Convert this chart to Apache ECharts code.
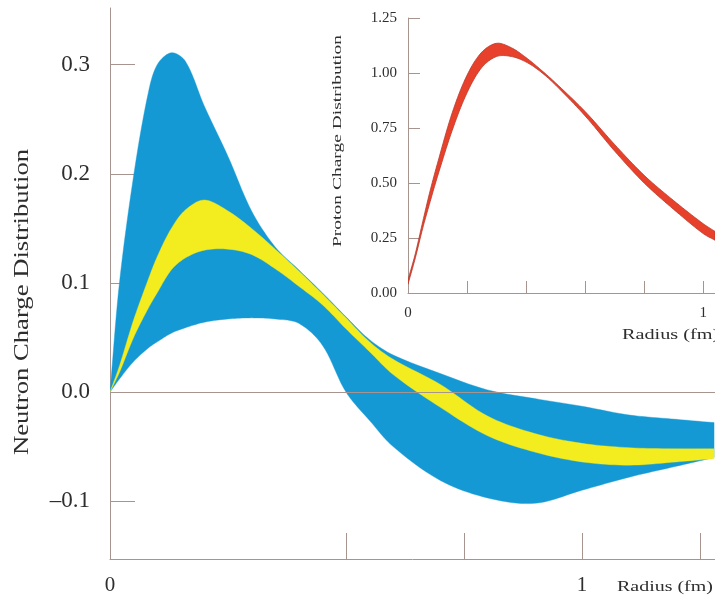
<!DOCTYPE html>
<html>
<head>
<meta charset="utf-8">
<script src="https://cdn.jsdelivr.net/npm/echarts@6/dist/echarts.min.js"></script>
<style>
html,body{margin:0;padding:0;background:#fff;}
#chart{width:715px;height:599px;}
</style>
</head>
<body>
<div id="chart"></div>
<script>
// ---- Main chart: neutron charge distribution (radius in fm) ----
const radius = [0, 0.02, 0.05, 0.08, 0.1, 0.13, 0.16, 0.2, 0.25, 0.3, 0.35, 0.4, 0.45, 0.5, 0.55, 0.6, 0.7, 0.8, 0.9, 1.0, 1.1, 1.2, 1.28];
const blueUpper = [0, 0.10, 0.198, 0.272, 0.30, 0.311, 0.303, 0.262, 0.216, 0.166, 0.133, 0.112, 0.091, 0.069, 0.048, 0.034, 0.017, 0.002, -0.006, -0.013, -0.021, -0.025, -0.028];
const blueLower = [0, 0.012, 0.028, 0.040, 0.046, 0.054, 0.059, 0.064, 0.067, 0.068, 0.067, 0.063, 0.043, 0.000, -0.026, -0.050, -0.081, -0.097, -0.102, -0.090, -0.078, -0.068, -0.060];
const yellowUpper = [0, 0.024, 0.066, 0.102, 0.124, 0.150, 0.167, 0.176, 0.166, 0.150, 0.131, 0.111, 0.090, 0.068, 0.046, 0.030, 0.007, -0.022, -0.038, -0.047, -0.051, -0.052, -0.052];
const yellowLower = [0, 0.018, 0.050, 0.076, 0.091, 0.112, 0.123, 0.130, 0.131, 0.126, 0.113, 0.097, 0.080, 0.058, 0.037, 0.016, -0.014, -0.040, -0.055, -0.064, -0.067, -0.064, -0.061];
const mainYTicks = [-0.1, 0, 0.1, 0.2, 0.3];
const mainXTicks = [0.5, 0.75, 1, 1.25];
const mainXLabels = [0, 1];

// ---- Inset: proton charge distribution ----
const protonRadius = [0, 0.025, 0.05, 0.075, 0.1, 0.15, 0.2, 0.25, 0.3, 0.35, 0.4, 0.45, 0.5, 0.6, 0.7, 0.8, 0.9, 1.0, 1.04];
const protonUpper = [0.06, 0.18, 0.325, 0.465, 0.59, 0.82, 0.99, 1.095, 1.135, 1.115, 1.07, 1.015, 0.955, 0.825, 0.675, 0.535, 0.42, 0.315, 0.28];
const protonLower = [0.04, 0.16, 0.295, 0.415, 0.53, 0.74, 0.91, 1.025, 1.075, 1.075, 1.05, 1.005, 0.945, 0.805, 0.645, 0.50, 0.38, 0.27, 0.24];
const insetYTicks = [0, 0.25, 0.5, 0.75, 1.0, 1.25];
const insetXTicks = [0.2, 0.4, 0.6, 0.8, 1.0];
const insetXLabels = [0, 1];

const AX = '#a8948f';
const TXT = '#2e2e2e';
const SERIF = '"Liberation Serif", "Times New Roman", serif';
const BLUE = '#1499d5';
const YELLOW = '#f3ec1e';
const RED = '#e8412b';

// Smooth an edge in pixel space (chord-length Hermite spline through the
// axis-mapped data points) so the band edges look like continuous curves.
function smoothEdge(pts) {
  const n = pts.length, out = [];
  const d = (a, b) => Math.hypot(b[0] - a[0], b[1] - a[1]) || 1e-6;
  const tan = pts.map((p, i) => {
    const a = pts[Math.max(0, i - 1)], b = pts[Math.min(n - 1, i + 1)];
    const L = (i > 0 ? d(a, p) : 0) + (i < n - 1 ? d(p, b) : 0);
    return [(b[0] - a[0]) / L, (b[1] - a[1]) / L];
  });
  for (let i = 0; i < n - 1; i++) {
    const p1 = pts[i], p2 = pts[i + 1], L = d(p1, p2);
    const c1 = [p1[0] + tan[i][0] * L / 3, p1[1] + tan[i][1] * L / 3];
    const c2 = [p2[0] - tan[i + 1][0] * L / 3, p2[1] - tan[i + 1][1] * L / 3];
    const steps = 10;
    for (let s = 0; s < steps; s++) {
      const t = s / steps, u = 1 - t;
      out.push([
        u * u * u * p1[0] + 3 * u * u * t * c1[0] + 3 * u * t * t * c2[0] + t * t * t * p2[0],
        u * u * u * p1[1] + 3 * u * u * t * c1[1] + 3 * u * t * t * c2[1] + t * t * t * p2[1]
      ]);
    }
  }
  out.push(pts[n - 1]);
  return out;
}

// A band drawn as one polygon between its lower and upper edges; every
// data vertex is placed through the axes with api.coord.
function band(name, xs, lo, hi, color, axisIdx, edge) {
  return {
    type: 'custom', name: name, coordinateSystem: 'cartesian2d',
    xAxisIndex: axisIdx, yAxisIndex: axisIdx, silent: true, clip: true,
    data: [[xs[0], lo[0]]],
    renderItem: function (params, api) {
      const top = smoothEdge(xs.map((x, i) => api.coord([x, hi[i]])));
      const bot = smoothEdge(xs.map((x, i) => api.coord([x, lo[i]])));
      return {
        type: 'polygon',
        shape: { points: top.concat(bot.reverse()) },
        style: { fill: color, stroke: edge || color, lineWidth: edge ? 0.8 : 0.4 }
      };
    }
  };
}

const chart = echarts.init(document.getElementById('chart'), null, { renderer: 'canvas' });

const series = [
  band('blue', radius, blueLower, blueUpper, BLUE, 0, null),
  band('yellow', radius, yellowLower, yellowUpper, YELLOW, 0, null),
  band('proton', protonRadius, protonLower, protonUpper, RED, 1, '#b8392a'),
  {
    type: 'line', xAxisIndex: 0, yAxisIndex: 0, data: [[0, 0]], silent: true, symbol: 'none',
    lineStyle: { opacity: 0 },
    markLine: {
      symbol: 'none', silent: true, label: { show: false },
      lineStyle: { color: AX, width: 1, type: 'solid' },
      data: [{ yAxis: 0 }], animation: false
    }
  }
];

const option = {
  backgroundColor: '#ffffff',
  animation: false,
  grid: [
    { left: 110, top: 8, right: 0, bottom: 40 },
    { left: 408, top: 18, right: 0, bottom: 306 }
  ],
  xAxis: [
    {
      type: 'value', gridIndex: 0, min: 0, max: 1.282,
      axisLine: { show: true, onZero: false, lineStyle: { color: AX, width: 1 } },
      axisTick: { show: true, inside: true, length: 26, customValues: mainXTicks, lineStyle: { color: AX } },
      axisLabel: { show: true, customValues: mainXLabels, margin: 16, color: TXT, fontFamily: SERIF, fontSize: 21,
        formatter: v => String(Math.round(v)) },
      splitLine: { show: false }
    },
    {
      type: 'value', gridIndex: 1, min: 0, max: 1.04,
      axisLine: { show: true, onZero: false, lineStyle: { color: AX, width: 1 } },
      axisTick: { show: true, inside: true, length: 12, customValues: insetXTicks, lineStyle: { color: AX } },
      axisLabel: { show: true, customValues: insetXLabels, margin: 13, color: TXT, fontFamily: SERIF, fontSize: 15,
        formatter: v => String(Math.round(v)) },
      splitLine: { show: false }
    }
  ],
  yAxis: [
    {
      type: 'value', gridIndex: 0, min: -0.153, max: 0.352,
      axisLine: { show: true, onZero: false, lineStyle: { color: AX, width: 1 } },
      axisTick: { show: true, inside: true, length: 25, customValues: mainYTicks, lineStyle: { color: AX } },
      axisLabel: { show: true, customValues: mainYTicks, margin: 20, color: TXT, fontFamily: SERIF, fontSize: 23,
        formatter: v => (v < 0 ? '\u2013' : '') + Math.abs(v).toFixed(1) },
      splitLine: { show: false }
    },
    {
      type: 'value', gridIndex: 1, min: 0, max: 1.25,
      axisLine: { show: true, onZero: false, lineStyle: { color: AX, width: 1 } },
      axisTick: { show: true, inside: true, length: 12, customValues: insetYTicks, lineStyle: { color: AX } },
      axisLabel: { show: true, customValues: insetYTicks, margin: 11, color: TXT, fontFamily: SERIF, fontSize: 15,
        formatter: v => v.toFixed(2) },
      splitLine: { show: false }
    }
  ],
  graphic: [
    { type: 'text', x: 22, y: 302, rotation: Math.PI / 2, scaleX: 1.27, silent: true,
      style: { text: 'Neutron Charge Distribution', fontSize: 21, fontFamily: SERIF, fill: TXT, align: 'center', verticalAlign: 'middle' } },
    { type: 'text', x: 617, y: 587, scaleX: 1.33, silent: true,
      style: { text: 'Radius (fm)', fontSize: 15, fontFamily: SERIF, fill: TXT, align: 'left', verticalAlign: 'middle' } },
    { type: 'text', x: 338, y: 141, rotation: Math.PI / 2, scaleX: 1.5, silent: true,
      style: { text: 'Proton Charge Distribution', fontSize: 13, fontFamily: SERIF, fill: TXT, align: 'center', verticalAlign: 'middle' } },
    { type: 'text', x: 622, y: 335, scaleX: 1.35, silent: true,
      style: { text: 'Radius (fm)', fontSize: 15, fontFamily: SERIF, fill: TXT, align: 'left', verticalAlign: 'middle' } }
  ],
  series: series
};
chart.setOption(option);
</script>
</body>
</html>
